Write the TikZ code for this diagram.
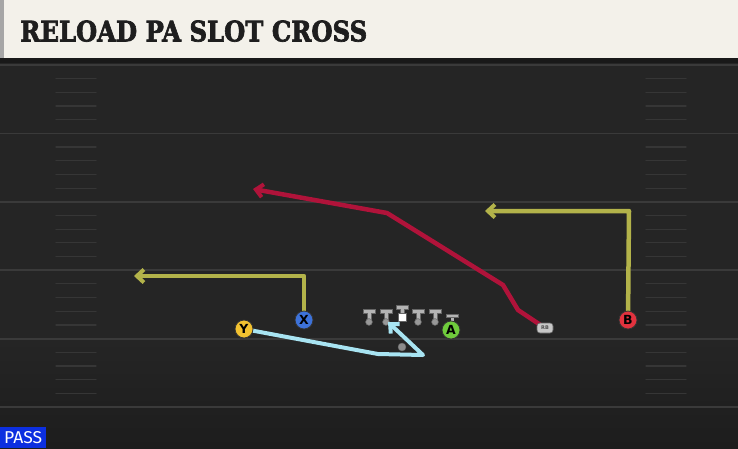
\documentclass[tikz,border=0pt]{standalone}
\usepackage{graphicx}
\usepackage{fontspec}
\setmainfont{DejaVu Serif}
\newfontfamily\titlefont[FakeBold=2.5]{DejaVu Serif}
\newfontfamily\plfont{DejaVu Sans}
\newfontfamily\passfont{Fira Sans}
\usetikzlibrary{arrows.meta}
\definecolor{fieldc}{HTML}{252525}
\definecolor{fieldd}{HTML}{1D1D1D}
\definecolor{yardc}{HTML}{3A3A3A}
\definecolor{hashc}{HTML}{363636}
\definecolor{headc}{HTML}{F3F1EA}
\definecolor{titlec}{HTML}{1E1E1E}
\definecolor{redr}{HTML}{B0133A}
\definecolor{yelr}{HTML}{B3B34A}
\definecolor{bluer}{HTML}{A8E4F2}
\definecolor{lmgray}{HTML}{B4B4B4}
\definecolor{lmdark}{HTML}{989898}
\definecolor{pyel}{HTML}{F2C230}
\definecolor{pblue}{HTML}{3D72D9}
\definecolor{pred}{HTML}{E2323E}
\definecolor{pgreen}{HTML}{6FCB3C}
\definecolor{passc}{HTML}{0C2FE0}
\tikzset{
  route/.style={line width=4.5pt, line join=round, line cap=butt,
    -{Straight Barb[length=7pt,width=13pt,line width=4pt]}},
  player/.style={circle, draw=black!80, line width=0.8pt, minimum size=18pt,
    inner sep=0pt, font=\plfont\bfseries\fontsize{12.5}{12.5}\selectfont, text=black},
  lineman/.pic={
    \filldraw[fill=lmgray, draw=black!60, line width=0.5pt]
      (-6,0) -- (6,0) -- (6,4) -- (2,4) -- (2,11) -- (-2,11) -- (-2,4) -- (-6,4) -- cycle;
    \filldraw[fill=lmdark, draw=black!60, line width=0.5pt] (0,13) circle (3.4);
  }
}
\begin{document}
\begin{tikzpicture}[x=1pt,y=-1pt]
\useasboundingbox (0,0) rectangle (738,448);
% field
\fill[fieldc] (0,0) rectangle (738,340);
\shade[top color=fieldc, bottom color=fieldd] (0,340) rectangle (738,448);
\fill[black!90] (0,56) rectangle (738,63);
% yard lines
\foreach \yy in {65,133.4,201.8,270.2,338.6,407} {
  \draw[yardc, line width=1.8pt] (0,\yy) -- (738,\yy);
}
% hash marks
\foreach \k in {1,...,24} {
  \pgfmathsetmacro{\r}{mod(\k,5)}
  \ifdim\r pt>0pt
    \pgfmathsetmacro{\hy}{65+13.68*\k}
    \draw[hashc, line width=1.2pt, line cap=round] (56,\hy) -- (96,\hy);
    \draw[hashc, line width=1.2pt, line cap=round] (646,\hy) -- (686,\hy);
  \fi
}
% header
\fill[headc] (0,0) rectangle (738,58);
\fill[black!35] (0,0) rectangle (4,58);
\node[anchor=south west, inner sep=0pt, text=titlec] (title) at (20,42)
  {\resizebox{347pt}{21pt}{\titlefont\bfseries RELOAD PA SLOT CROSS}};
% coordinates of players
\coordinate (Yc) at (244,329);
\coordinate (Xc) at (304,320);
\coordinate (Bc) at (628,320);
\coordinate (Ac) at (451,330);
\coordinate (RBc) at (545,328);
\coordinate (Xturn) at (304,276);
\coordinate (Xend) at (134,276);
\coordinate (Bturn) at (629,211);
\coordinate (Bend) at (485,211);
\coordinate (R1) at (518,310);
\coordinate (R2) at (503,285);
\coordinate (R3) at (387,213);
\coordinate (Rend) at (253,189);
\coordinate (Y1) at (378,354);
\coordinate (Y2) at (423,355);
\coordinate (Yend) at (388,322);
% routes
\draw[route, redr] (RBc) -- (R1) -- (R2) -- (R3) -- (Rend);
\draw[route, yelr] (Xc) -- (Xturn) -- (Xend);
\draw[route, yelr] (Bc) -- (Bturn) -- (Bend);
% offensive line
\pic at (369,309) {lineman};
\pic at (386,309) {lineman};
\pic at (402,305) {lineman};
\pic at (418,309) {lineman};
\pic at (435,309) {lineman};
\node[draw=black!60, fill=white, line width=0.5pt, minimum size=8pt, inner sep=0pt] (ball) at (402,317) {};
% QB dot
\node[circle, fill=black!45, draw=black!60, line width=0.4pt, minimum size=8pt, inner sep=0pt] (qb) at (402,347) {};
% blue route
\draw[route, bluer, line width=4pt] (Yc) -- (Y1) -- (Y2) -- (Yend);
% A block mark
\filldraw[fill=lmgray, draw=black!60, line width=0.5pt] (446,314) rectangle (458,317.5);
\fill[lmgray] (450.5,317.5) rectangle (453.5,322);
% players
\node[player, fill=pyel] (Y) at (Yc) {Y};
\node[player, fill=pblue] (X) at (Xc) {X};
\node[player, fill=pred] (B) at (Bc) {B};
\node[player, fill=pgreen] (A) at (Ac) {A};
\node[draw=black!60, fill=black!22, line width=0.6pt, rounded corners=3pt,
  minimum width=16pt, minimum height=10pt, inner sep=0pt,
  font=\plfont\bfseries\fontsize{5}{5}\selectfont, text=black!70] (RB) at (RBc) {RB};
% PASS label
\fill[passc] (0,427) rectangle (46,448);
\node[anchor=south west, inner sep=0pt, text=white] (pass) at (4,444)
  {\resizebox{38pt}{12pt}{\passfont PASS}};
\end{tikzpicture}
\end{document}
